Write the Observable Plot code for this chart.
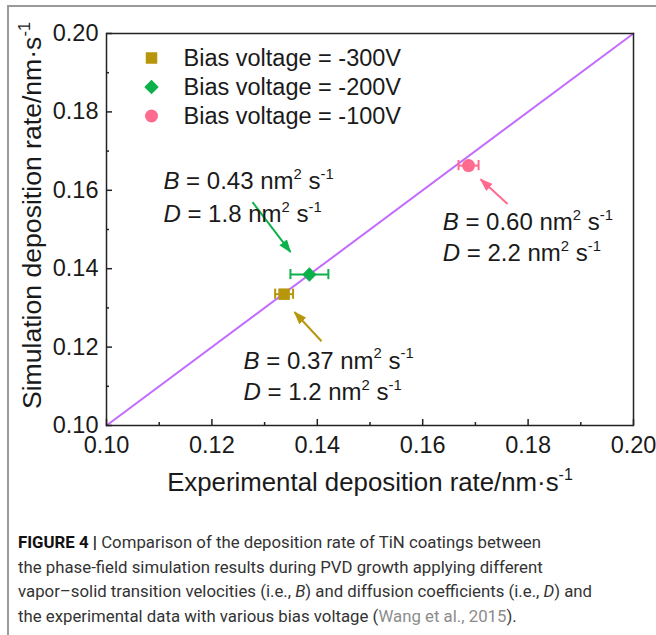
<!DOCTYPE html>
<html><head><meta charset="utf-8">
<script src="https://cdn.jsdelivr.net/npm/d3@7"></script>
<script src="https://cdn.jsdelivr.net/npm/@observablehq/plot@0.6"></script>
<style>
html,body{margin:0;padding:0;background:#fff;}
body{width:656px;height:635px;position:relative;overflow:hidden;font-family:"Liberation Sans",Arial,sans-serif;}
#border{position:absolute;left:7px;top:5px;width:700px;height:700px;border-left:2px solid #9a9a9a;border-top:2px solid #9a9a9a;}
#chart{position:absolute;left:0;top:0;}
#caption{position:absolute;left:18px;top:530px;font-family:Roboto,"Liberation Sans",sans-serif;font-size:16.8px;line-height:24.5px;color:#333;white-space:nowrap;}
#caption b{font-weight:700;color:#111;}
#caption .ref{color:#8c8c8c;}
</style></head><body>
<div id="border"></div>
<div id="chart"></div>
<div id="caption"><b>FIGURE 4 |</b> Comparison of the deposition rate of TiN coatings between<br>the phase-field simulation results during PVD growth applying different<br>vapor–solid transition velocities (i.e., <i>B</i>) and diffusion coefficients (i.e., <i>D</i>) and<br>the experimental data with various bias voltage (<span class="ref">Wang et al., 2015</span>).</div>
<script>
// ---- data ----
const seriesNames = ["Bias voltage = -300V", "Bias voltage = -200V", "Bias voltage = -100V"];
const seriesColors = ["#B8960C", "#0DB14B", "#FF6B8E"];
const seriesSymbols = ["square", "diamond2", "circle"];
const expRate = [0.1337, 0.1385, 0.1687];
const expErr = [0.0017, 0.0036, 0.0019];
const simRate = [0.1335, 0.1385, 0.1663];
const valueB = ["0.37", "0.43", "0.60"];
const valueD = ["1.2", "1.8", "2.2"];
const noteX = [0.1260, 0.1108, 0.1638];
const noteYB = [0.1165, 0.1623, 0.1519];
const noteYD = [0.1084, 0.1539, 0.1438];
const arrowX1 = [0.1408, 0.1277, 0.1761];
const arrowY1 = [0.1215, 0.1570, 0.1565];
const arrowX2 = [0.1357, 0.1349, 0.1710];
const arrowY2 = [0.1289, 0.1443, 0.1628];
const majorTicks = [0.10, 0.12, 0.14, 0.16, 0.18, 0.20];
const minorTicks = [0.11, 0.13, 0.15, 0.17, 0.19];
const identityLine = [0.10, 0.20];
const capHalf = 0.0013;
const xTitle = "Experimental deposition rate/nm·s^{-1}";
const yTitle = "Simulation deposition rate/nm·s^{-1}";

const rows = seriesNames.map((name, i) => ({
  name, color: seriesColors[i], symbol: seriesSymbols[i],
  exp: expRate[i], err: expErr[i], sim: simRate[i],
  B: valueB[i], D: valueD[i], nx: noteX[i], nyB: noteYB[i], nyD: noteYD[i],
  ax1: arrowX1[i], ay1: arrowY1[i], ax2: arrowX2[i], ay2: arrowY2[i]
}));
const diag = identityLine.map(v => ({x: v, y: v}));
const ink = "#1a1a1a";

const legendMarks = rows.flatMap((d, i) => [
  Plot.dot([d], {frameAnchor: "top-left", dx: 45, dy: 24.5 + i * 29, r: 6.5, symbol: () => d.symbol, fill: d.color, stroke: "none"}),
  Plot.text([d], {frameAnchor: "top-left", dx: 77, dy: 24.5 + i * 29, text: "name", textAnchor: "start", lineAnchor: "middle", fontSize: 23.5, fill: ink})
]);

const chart = Plot.plot({
  width: 656, height: 500,
  marginTop: 33, marginBottom: 75, marginLeft: 106, marginRight: 23,
  style: {fontFamily: "'Liberation Sans', Arial, sans-serif", fontSize: "23.5px", color: ink, background: "transparent"},
  x: {domain: [0.10, 0.20], label: null},
  y: {domain: [0.10, 0.20], label: null},
  marks: [
    Plot.line(diag, {x: "x", y: "y", stroke: "#C46BFF", strokeWidth: 2}),
    Plot.ruleY(rows, {y: "sim", x1: d => d.exp - d.err, x2: d => d.exp + d.err, stroke: d => d.color, strokeWidth: 2}),
    Plot.ruleX(rows, {x: d => d.exp - d.err, y1: d => d.sim - capHalf, y2: d => d.sim + capHalf, stroke: d => d.color, strokeWidth: 2}),
    Plot.ruleX(rows, {x: d => d.exp + d.err, y1: d => d.sim - capHalf, y2: d => d.sim + capHalf, stroke: d => d.color, strokeWidth: 2}),
    ...rows.map(d => Plot.dot([d], {x: "exp", y: "sim", r: 6.5, symbol: () => d.symbol, fill: d.color, stroke: "none"})),
    Plot.link(rows, {x1: "ax1", y1: "ay1", x2: "ax2", y2: "ay2", stroke: d => d.color, strokeWidth: 2, markerEnd: "arrow"}),
    Plot.text(rows, {x: "nx", y: "nyB", text: d => `*B* = ${d.B} nm^{2} s^{-1}`, textAnchor: "start", fontSize: 24, fill: ink}),
    Plot.text(rows, {x: "nx", y: "nyD", text: d => `*D* = ${d.D} nm^{2} s^{-1}`, textAnchor: "start", fontSize: 24, fill: ink}),
    ...legendMarks,
    Plot.frame({stroke: "#222", strokeWidth: 1.5}),
    Plot.axisX(majorTicks, {anchor: "bottom", tickSize: -6, tickPadding: 17, tickFormat: d3.format(".2f"), stroke: "#222", strokeWidth: 1.5, fill: ink, label: null}),
    Plot.axisX(minorTicks, {anchor: "bottom", tickSize: -3, tickFormat: () => "", stroke: "#222", strokeWidth: 1.5, label: null}),
    Plot.axisY(majorTicks, {anchor: "left", tickSize: -6, tickPadding: 14, tickFormat: d3.format(".2f"), stroke: "#222", strokeWidth: 1.5, fill: ink, label: null}),
    Plot.axisY(minorTicks, {anchor: "left", tickSize: -3, tickFormat: () => "", stroke: "#222", strokeWidth: 1.5, label: null}),
    Plot.text([xTitle], {frameAnchor: "bottom", dy: 57, text: d => d, textAnchor: "middle", lineAnchor: "middle", fontSize: 25.8, fill: ink}),
    Plot.text([yTitle], {frameAnchor: "left", dx: -74, dy: -14, rotate: -90, text: d => d, textAnchor: "middle", lineAnchor: "middle", fontSize: 26.6, fill: ink})
  ]
});

// rich text: italics (*x*) and superscripts (^{x})
function richText(el) {
  const s = el.textContent;
  if (!/\^\{|\*/.test(s)) return;
  let node = el, fs = NaN;
  while (node && isNaN(fs)) { fs = parseFloat(node.getAttribute && node.getAttribute("font-size")); node = node.parentNode; }
  if (isNaN(fs)) fs = 24;
  const parts = s.split(/(\^\{[^}]*\}|\*[^*]+\*)/).filter(p => p !== "");
  el.textContent = "";
  let shift = 0;
  for (const p of parts) {
    const t = document.createElementNS("http://www.w3.org/2000/svg", "tspan");
    if (p.startsWith("^{")) {
      t.textContent = p.slice(2, -1);
      t.setAttribute("font-size", (fs * 0.62).toFixed(1));
      t.setAttribute("dy", (-fs * 0.42).toFixed(1));
      shift = fs * 0.42;
    } else {
      if (p.startsWith("*")) { t.textContent = p.slice(1, -1); t.setAttribute("font-style", "italic"); }
      else t.textContent = p;
      if (shift) { t.setAttribute("dy", shift.toFixed(1)); shift = 0; }
    }
    el.appendChild(t);
  }
}
chart.querySelectorAll("text").forEach(el => richText(el));

// filled triangular arrowheads
chart.querySelectorAll("marker").forEach(m => {
  const c = m.getAttribute("stroke");
  m.setAttribute("refX", "4");
  m.setAttribute("fill", c);
  m.setAttribute("stroke", "none");
  const p = m.querySelector("path");
  p.setAttribute("d", "M-5,-3.6L5,0L-5,3.6Z");
  p.setAttribute("fill", c);
  p.setAttribute("stroke", "none");
});

document.getElementById("chart").appendChild(chart);
</script>
</body></html>
